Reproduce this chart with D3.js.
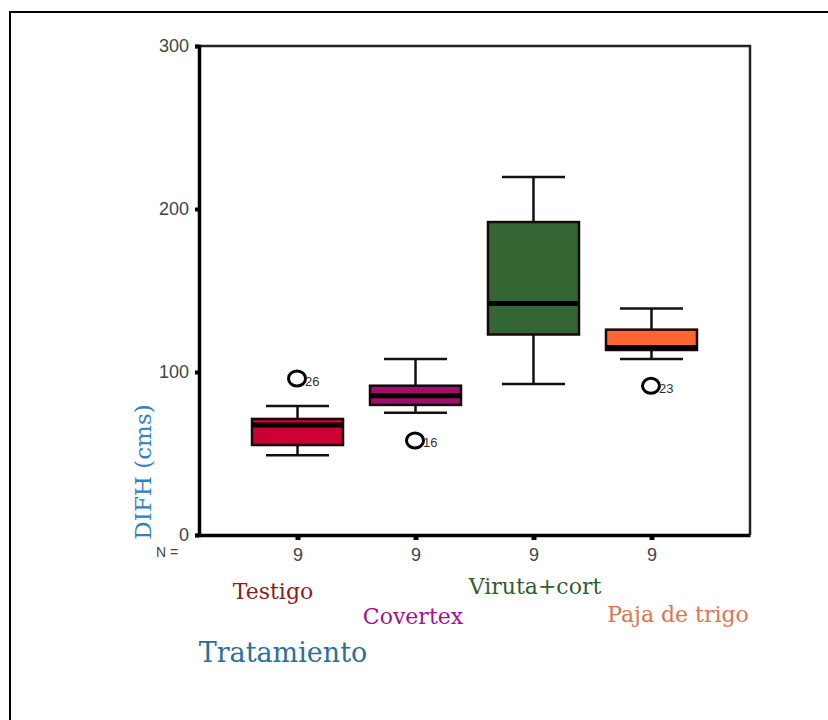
<!DOCTYPE html>
<html><head><meta charset="utf-8">
<script src="https://cdn.jsdelivr.net/npm/d3@7"></script>
<style>body{margin:0;background:#fff}svg{display:block}</style>
</head><body>
<svg id="c" width="828" height="720"></svg>
<script>
const categories = ["Testigo", "Covertex", "Viruta+cort", "Paja de trigo"];
const whiskerLow = [49, 75, 92.6, 108];
const q1 = [55.2, 79.8, 123, 113.5];
const median = [67.5, 85.5, 142, 115];
const q3 = [71.2, 91.6, 192, 126];
const whiskerHigh = [79.1, 108, 219.6, 139];
const nCounts = [9, 9, 9, 9];
const outlierCategory = ["Testigo", "Covertex", "Paja de trigo"];
const outlierValue = [96, 58, 91.5];
const outlierLabel = ["26", "16", "23"];
const yTicks = [0, 100, 200, 300];
const fills = ["#cc0033", "#a0106a", "#336633", "#ff6633"];
const labelColors = ["#8e1b1b", "#a3128a", "#2f5f2f", "#d9764e"];

const svg = d3.select("#c");
const x = d3.scalePoint().domain(categories).range([199, 750]).padding(0.835);
const y = d3.scaleLinear().domain([0, 300]).range([535, 46]);

// outer frame
svg.append("path").attr("d", "M10,720 V12 H828").attr("fill", "none")
  .attr("stroke", "#000").attr("stroke-width", 2);

// plot frame top & right
svg.append("path").attr("d", `M199,${y(300)} H750 V${y(0)}`).attr("fill", "none")
  .attr("stroke", "#222").attr("stroke-width", 2.5);

const sans = "Liberation Sans, Arial, sans-serif";
const serif = "DejaVu Serif, serif";

// y axis
const yAxis = svg.append("g").attr("transform", "translate(199,0)")
  .call(d3.axisLeft(y).tickValues(yTicks).tickSize(4).tickPadding(6).tickFormat(d3.format("d")));
yAxis.select(".domain").attr("stroke", "#000").attr("stroke-width", 3.5);
yAxis.selectAll(".tick line").attr("stroke", "#000").attr("stroke-width", 4);
yAxis.selectAll(".tick text").attr("font-family", sans)
  .style("font-size", "18px").attr("fill", "#444");

// x axis
const xAxis = svg.append("g").attr("transform", `translate(0,${y(0)})`)
  .call(d3.axisBottom(x).tickSize(5).tickSizeOuter(0).tickPadding(8).tickFormat((d, i) => nCounts[i]));
xAxis.select(".domain").attr("stroke", "#000").attr("stroke-width", 3.5);
xAxis.selectAll(".tick line").attr("stroke", "#000").attr("stroke-width", 5);
xAxis.selectAll(".tick text").attr("font-family", sans)
  .style("font-size", "18px").attr("fill", "#444");

svg.append("text").attr("x", 167).attr("y", 557).attr("text-anchor", "middle")
  .attr("font-family", sans).style("font-size", "14px")
  .attr("fill", "#444").text("N =");

// boxes
const boxW = 91, capW = 63;
const g = svg.append("g");
categories.forEach((c, i) => {
  const cx = x(c);
  const wl = g.append("g").attr("stroke", "#111").attr("stroke-width", 2.5);
  wl.append("line").attr("x1", cx).attr("x2", cx).attr("y1", y(whiskerHigh[i])).attr("y2", y(q3[i]));
  wl.append("line").attr("x1", cx).attr("x2", cx).attr("y1", y(q1[i])).attr("y2", y(whiskerLow[i]));
  wl.append("line").attr("x1", cx - capW / 2).attr("x2", cx + capW / 2).attr("y1", y(whiskerHigh[i])).attr("y2", y(whiskerHigh[i]));
  wl.append("line").attr("x1", cx - capW / 2).attr("x2", cx + capW / 2).attr("y1", y(whiskerLow[i])).attr("y2", y(whiskerLow[i]));
  g.append("rect").attr("x", cx - boxW / 2).attr("y", y(q3[i])).attr("width", boxW)
    .attr("height", y(q1[i]) - y(q3[i])).attr("fill", fills[i])
    .attr("stroke", "#1a0808").attr("stroke-width", 2.5);
  g.append("line").attr("x1", cx - boxW / 2).attr("x2", cx + boxW / 2)
    .attr("y1", y(median[i])).attr("y2", y(median[i]))
    .attr("stroke", "#000").attr("stroke-width", 5);
});

// outliers
outlierCategory.forEach((c, i) => {
  const cx = x(c) - 0.5, cy = y(outlierValue[i]);
  g.append("ellipse").attr("cx", cx).attr("cy", cy).attr("rx", 8.5).attr("ry", 7.5)
    .attr("fill", "none").attr("stroke", "#000").attr("stroke-width", 3);
  g.append("text").attr("x", cx + 8).attr("y", cy + 7)
    .attr("font-family", sans).style("font-size", "13px")
    .attr("fill", "#333").text(outlierLabel[i]);
});

// y label
svg.append("text").attr("transform", "translate(151,472) rotate(-90)")
  .attr("text-anchor", "middle").attr("font-family", serif)
  .style("font-size", "23px").attr("fill", "#2f82bd").text("DIFH (cms)");

// category labels
const catLabelX = [273, 413, 535, 678];
const catLabelY = [599, 624, 594, 622];
categories.forEach((c, i) => {
  svg.append("text").attr("x", catLabelX[i]).attr("y", catLabelY[i]).attr("text-anchor", "middle")
    .attr("font-family", serif).style("font-size", "22px")
    .attr("fill", labelColors[i]).text(c);
});

svg.append("text").attr("x", 283).attr("y", 662).attr("text-anchor", "middle")
  .attr("font-family", serif).style("font-size", "27px")
  .attr("fill", "#2d6f9c").text("Tratamiento");
</script>
</body></html>
